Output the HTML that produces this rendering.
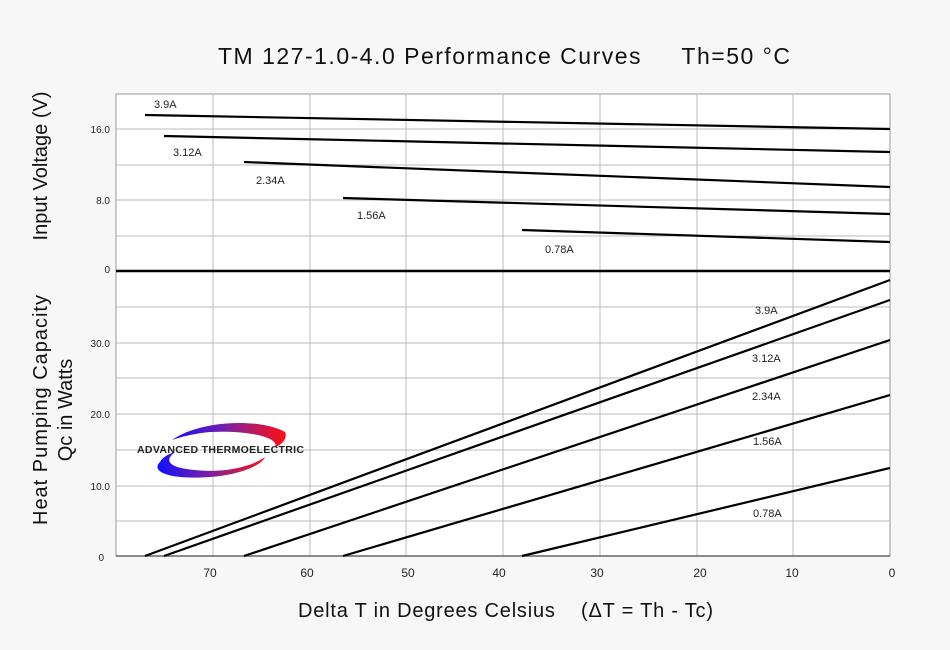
<!DOCTYPE html>
<html><head><meta charset="utf-8"><style>
body{margin:0;background:#f7f7f7;}
svg{display:block;font-family:"Liberation Sans",sans-serif;}
</style></head><body>
<svg width="950" height="650" viewBox="0 0 950 650">
<rect width="950" height="650" fill="#f7f7f7"/>
<rect x="116" y="94" width="774" height="462" fill="#fff" stroke="#999" stroke-width="1"/>
<g stroke="#bbb" stroke-width="1">
<line x1="213" y1="94" x2="213" y2="556"/><line x1="310" y1="94" x2="310" y2="556"/>
<line x1="406" y1="94" x2="406" y2="556"/><line x1="503" y1="94" x2="503" y2="556"/>
<line x1="600" y1="94" x2="600" y2="556"/><line x1="697" y1="94" x2="697" y2="556"/>
<line x1="793" y1="94" x2="793" y2="556"/>
<line x1="116" y1="129" x2="890" y2="129"/><line x1="116" y1="165" x2="890" y2="165"/>
<line x1="116" y1="200" x2="890" y2="200"/><line x1="116" y1="236" x2="890" y2="236"/>
<line x1="116" y1="307" x2="890" y2="307"/><line x1="116" y1="343" x2="890" y2="343"/>
<line x1="116" y1="378" x2="890" y2="378"/><line x1="116" y1="414" x2="890" y2="414"/>
<line x1="116" y1="450" x2="890" y2="450"/><line x1="116" y1="486" x2="890" y2="486"/>
<line x1="116" y1="521" x2="890" y2="521"/>
</g>
<line x1="116" y1="556" x2="890" y2="556" stroke="#666" stroke-width="1.5"/>
<line x1="116" y1="271" x2="890" y2="271" stroke="#000" stroke-width="2.5"/>
<g stroke="#000" stroke-width="2.2">
<line x1="145" y1="115" x2="890" y2="129"/>
<line x1="164" y1="136" x2="890" y2="152"/>
<line x1="244" y1="162" x2="890" y2="187"/>
<line x1="343" y1="198" x2="890" y2="214"/>
<line x1="522" y1="230" x2="890" y2="242"/>
<line x1="145" y1="556" x2="890" y2="280"/>
<line x1="164" y1="556" x2="890" y2="300"/>
<line x1="244" y1="556" x2="890" y2="340"/>
<line x1="343" y1="556" x2="890" y2="395"/>
<line x1="522" y1="556" x2="890" y2="468"/>
</g>
<g font-size="11" fill="#222">
<text x="154" y="108">3.9A</text><text x="173" y="156">3.12A</text>
<text x="256" y="184">2.34A</text><text x="357" y="219">1.56A</text>
<text x="545" y="253">0.78A</text>
<text x="755" y="314">3.9A</text><text x="752" y="362">3.12A</text>
<text x="752" y="400">2.34A</text><text x="753" y="445">1.56A</text>
<text x="753" y="517">0.78A</text>
</g>
<g font-size="10" fill="#222" text-anchor="end">
<text x="110" y="133">16.0</text><text x="110" y="204">8.0</text><text x="110" y="273">0</text>
<text x="110" y="347">30.0</text><text x="110" y="418">20.0</text><text x="110" y="490">10.0</text>
<text x="104" y="561">0</text>
</g>
<g font-size="12" fill="#222" text-anchor="middle">
<text x="210" y="577">70</text><text x="307" y="577">60</text><text x="408" y="577">50</text>
<text x="499" y="577">40</text><text x="597" y="577">30</text><text x="700" y="577">20</text>
<text x="792" y="577">10</text><text x="892" y="577">0</text>
</g>
<text x="218" y="64" font-size="23" fill="#111" textLength="572" lengthAdjust="spacing">TM 127-1.0-4.0 Performance Curves&#160;&#160;&#160;&#160;&#160;Th=50 °C</text>
<text x="298" y="617" font-size="20" fill="#111" textLength="415" lengthAdjust="spacing">Delta T in Degrees Celsius&#160;&#160;&#160;&#160;(ΔT = Th - Tc)</text>
<text transform="translate(47,166) rotate(-90)" font-size="20" text-anchor="middle" fill="#111">Input Voltage (V)</text>
<text transform="translate(47,410) rotate(-90)" font-size="20" text-anchor="middle" fill="#111" textLength="230" lengthAdjust="spacing">Heat Pumping Capacity</text>
<text transform="translate(72,410) rotate(-90)" font-size="20" text-anchor="middle" fill="#111">Qc in Watts</text>
<defs><linearGradient id="g" x1="0" x2="1"><stop offset="0" stop-color="#1010ff"/><stop offset="0.5" stop-color="#8020a0"/><stop offset="1" stop-color="#ff1010"/></linearGradient></defs>
<path d="M172,440 C200,420 260,418 285,432 C288,438 282,445 275,447 C280,438 250,430 210,432 C190,434 178,438 172,440Z" fill="url(#g)"/>
<path d="M160,462 C150,472 170,480 210,477 C240,475 262,465 265,457 C250,468 220,473 195,470 C172,468 162,462 175,452 C168,454 162,458 160,462Z" fill="url(#g)"/>
<text x="137" y="453" font-size="10.5" font-weight="bold" fill="#222" textLength="167">ADVANCED THERMOELECTRIC</text>
</svg>
</body></html>
